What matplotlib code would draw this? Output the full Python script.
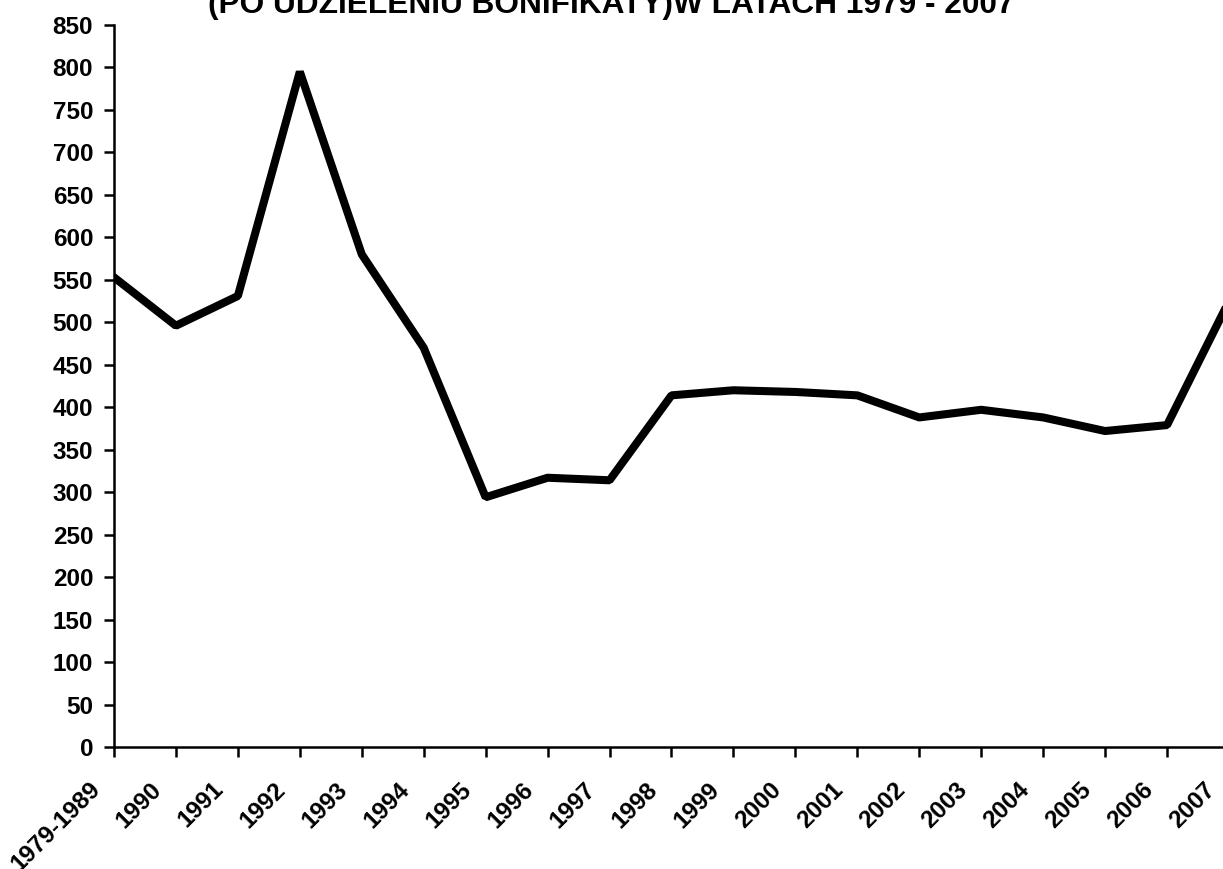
import matplotlib
matplotlib.use("Agg")
import matplotlib.pyplot as plt
from matplotlib.transforms import ScaledTranslation

plt.rcParams['font.family'] = ['Liberation Sans', 'DejaVu Sans']
plt.rcParams['font.weight'] = 'bold'

years = ['1979-1989', '1990', '1991', '1992', '1993', '1994', '1995', '1996',
         '1997', '1998', '1999', '2000', '2001', '2002', '2003', '2004',
         '2005', '2006', '2007']
values = [553, 496, 531, 795, 580, 470, 294, 317, 314, 414, 420, 418, 414,
          388, 397, 388, 372, 379, 525]
y_ticks = list(range(0, 851, 50))

fig = plt.figure(figsize=(12.23, 8.69), dpi=100)
# axes run slightly past the right edge, so the last point is clipped
ax = fig.add_axes([0.0932, 0.1404, 0.9117, 0.8308])

x = range(len(years))
ax.plot(x, values, color='black', linewidth=5.8, solid_joinstyle='bevel')

ax.set_xlim(0, len(years) - 1)
ax.set_ylim(0, 850)
ax.set_yticks(y_ticks)
ax.set_yticklabels([str(v) for v in y_ticks], fontsize=17.5, fontweight='bold')
ax.set_xticks(list(x))
ax.set_xticklabels([])

# rotated year labels, placed below and slightly left of each tick
lbl_trans = ax.get_xaxis_transform() + ScaledTranslation(-0.13, -0.435, fig.dpi_scale_trans)
for i, yr in enumerate(years):
    ax.text(i, 0, yr, transform=lbl_trans, fontsize=17.5, fontweight='bold',
            rotation=45, ha='right', va='baseline', rotation_mode='anchor',
            clip_on=False)

for side in ['top', 'right']:
    ax.spines[side].set_visible(False)
for side in ['left', 'bottom']:
    ax.spines[side].set_linewidth(1.8)
ax.tick_params(axis='both', direction='out', length=7, width=1.8, colors='black')
ax.tick_params(axis='y', pad=8)

fig.text(0.5, 1 - 13 / 869, '(PO UDZIELENIU BONIFIKATY)W LATACH 1979 - 2007',
         ha='center', va='baseline', fontsize=22.8, fontweight='bold')

fig.savefig('out.png', dpi=100)
